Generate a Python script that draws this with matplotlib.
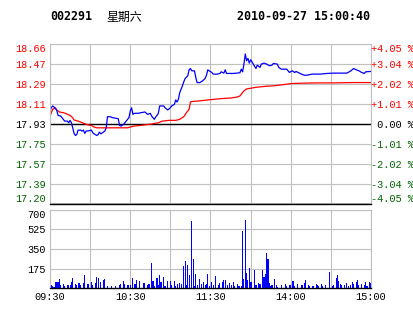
import matplotlib
matplotlib.use('Agg')
import numpy as np
import matplotlib.pyplot as plt

# header
code = '002291'
weekday = '星期六'
stamp = '2010-09-27 15:00:40'

prev_close = 17.93
price_labels = ['18.66', '18.47', '18.29', '18.11', '17.93', '17.75', '17.57', '17.39', '17.20']
pct_labels = ['+4.05 %', '+3.04 %', '+2.02 %', '+1.01 %', ' 0.00 %', '-1.01 %', '-2.02 %', '-3.04 %', '-4.05 %']
vol_ticks = [175, 350, 525, 700]
time_ticks = [0, 60, 120, 180, 240]
time_labels = ['09:30', '10:30', '11:30', '14:00', '15:00']

# last price, minute index from the open (lunch break removed)
price_min = [0, 1, 2, 3, 5, 6, 8, 10, 11, 13, 14, 15, 16, 17, 18, 19, 20, 21, 23, 24,
             25, 26, 27, 29, 31, 32, 33, 35, 36, 37, 38, 40, 41, 42, 43, 45, 47, 50, 51, 52,
             53, 55, 56, 58, 59, 60, 61, 62, 63, 66, 68, 71, 73, 75, 76, 78, 79, 80, 81, 82,
             85, 86, 88, 90, 91, 93, 94, 95, 96, 97, 99, 100, 101, 103, 104, 105, 106, 108, 109, 110,
             112, 114, 116, 117, 118, 119, 121, 122, 125, 127, 128, 130, 131, 132, 137, 142, 143, 144, 145, 146,
             147, 148, 149, 150, 152, 154, 155, 157, 158, 160, 162, 164, 166, 167, 170, 171, 173, 177, 179, 181,
             183, 184, 187, 190, 192, 196, 202, 207, 212, 222, 225, 227, 229, 231, 233, 235, 236, 240]
price = [18.046, 18.076, 18.092, 18.083, 18.055, 18.006, 18.000, 17.970, 17.954, 17.954,
         17.939, 17.961, 17.939, 17.893, 17.842, 17.823, 17.832, 17.872, 17.872, 17.863,
         17.872, 17.842, 17.863, 17.866, 17.872, 17.848, 17.838, 17.823, 17.832, 17.854,
         17.838, 17.854, 17.863, 17.893, 17.994, 17.994, 17.985, 17.979, 17.976, 17.915,
         17.909, 17.924, 17.939, 17.970, 17.985, 18.046, 18.076, 18.015, 18.025, 18.025,
         18.031, 18.037, 18.015, 18.025, 18.000, 17.970, 17.991, 18.006, 18.025, 18.092,
         18.092, 18.076, 18.055, 18.076, 18.092, 18.107, 18.147, 18.128, 18.153, 18.214,
         18.275, 18.311, 18.342, 18.366, 18.421, 18.433, 18.412, 18.412, 18.351, 18.305,
         18.305, 18.320, 18.342, 18.372, 18.421, 18.412, 18.397, 18.382, 18.382, 18.388,
         18.403, 18.391, 18.421, 18.388, 18.388, 18.394, 18.427, 18.403, 18.473, 18.565,
         18.504, 18.525, 18.482, 18.513, 18.473, 18.433, 18.464, 18.443, 18.473, 18.482,
         18.473, 18.458, 18.464, 18.479, 18.473, 18.443, 18.427, 18.427, 18.397, 18.412,
         18.397, 18.406, 18.388, 18.372, 18.372, 18.382, 18.382, 18.388, 18.391, 18.391,
         18.412, 18.433, 18.421, 18.412, 18.397, 18.388, 18.403, 18.406]

# average price
avg_min = [0, 1, 2, 4, 5, 7, 10, 12, 15, 17, 18, 21, 23, 26, 28, 31, 33, 35, 58, 61,
           63, 68, 73, 76, 78, 81, 84, 89, 94, 97, 100, 102, 104, 105, 107, 111, 118, 123, 128, 136,
           140, 142, 144, 145, 147, 150, 153, 157, 162, 167, 177, 180, 187, 200, 212, 227, 240]
avg_price = [18.000, 18.031, 18.061, 18.076, 18.055, 18.037, 18.031, 18.022, 18.006, 17.985,
             17.964, 17.954, 17.945, 17.930, 17.921, 17.915, 17.899, 17.893, 17.893, 17.903,
             17.909, 17.915, 17.924, 17.927, 17.933, 17.939, 17.954, 17.961, 17.961, 17.970,
             17.994, 18.031, 18.061, 18.128, 18.134, 18.137, 18.147, 18.153, 18.159, 18.165,
             18.174, 18.183, 18.214, 18.229, 18.247, 18.253, 18.260, 18.266, 18.272, 18.275,
             18.290, 18.296, 18.299, 18.302, 18.302, 18.305, 18.305]

# volume per minute, 241 bars
volume = [20, 25, 20, 15, 60, 60, 55, 83, 30, 0, 35, 20, 0, 30, 25, 30, 59, 95, 0, 35,
          25, 45, 45, 30, 0, 50, 118, 0, 35, 40, 0, 60, 30, 0, 45, 103, 95, 0, 59, 0,
          74, 83, 0, 24, 0, 0, 18, 0, 0, 21, 0, 0, 30, 35, 0, 65, 35, 0, 30, 30,
          30, 0, 95, 35, 35, 74, 0, 65, 0, 0, 45, 45, 0, 30, 35, 0, 224, 65, 24, 0,
          95, 30, 118, 53, 0, 103, 24, 0, 65, 0, 65, 30, 0, 65, 20, 35, 0, 45, 35, 0,
          198, 242, 30, 207, 118, 0, 597, 260, 24, 127, 30, 0, 83, 35, 0, 59, 30, 35, 124, 24,
          0, 59, 30, 0, 109, 0, 30, 45, 0, 59, 74, 74, 0, 30, 45, 0, 30, 59, 24, 0,
          35, 24, 24, 24, 508, 83, 605, 133, 74, 183, 59, 59, 0, 162, 30, 0, 45, 35, 0, 162,
          103, 124, 316, 263, 45, 24, 30, 0, 83, 30, 15, 0, 0, 30, 0, 0, 35, 24, 0, 30,
          30, 65, 65, 24, 0, 35, 0, 0, 30, 30, 45, 74, 0, 30, 24, 0, 24, 24, 0, 35,
          30, 24, 0, 35, 24, 0, 30, 0, 0, 142, 0, 24, 30, 0, 89, 118, 65, 35, 30, 0,
          30, 0, 45, 24, 0, 30, 53, 35, 0, 59, 74, 30, 0, 35, 0, 30, 53, 24, 0, 59,
          45]

RED = '#ff0000'
GREEN = '#006400'
BLUE = '#0000ff'
GRID = '#c0c0c0'
MONO = 'Liberation Mono'
W, H = 414, 314


def color_labels(labels):
    n = len(labels)
    for i, t in enumerate(labels):
        t.set_color(RED if i < n // 2 else ('black' if i == n // 2 else GREEN))
    # end labels sit inside the panel
    labels[0].set_va('top')
    labels[-1].set_va('bottom')


fig = plt.figure(figsize=(W / 100, H / 100), dpi=100)
fig.patch.set_facecolor('white')

fig.text(50 / W, 1 - 17 / H, code, family='DejaVu Sans Mono', weight='bold', fontsize=8.4, va='center')
fig.text(106 / W, 1 - 17 / H, weekday, family=['Noto Sans CJK SC', 'DejaVu Sans'], fontsize=8.6, va='center')
fig.text(237 / W, 1 - 17 / H, stamp, family='DejaVu Sans Mono', weight='bold', fontsize=8.4, va='center')

# price panel
ax = fig.add_axes([50 / W, 1 - 203.5 / H, 321 / W, 159.5 / H])
lim = prev_close * 0.0405
ax.set_ylim(prev_close - lim, prev_close + lim)
ax.set_xlim(0, 240)
yt = np.linspace(prev_close + lim, prev_close - lim, 9)
ax.set_yticks(yt)
ax.set_yticklabels(price_labels, family=MONO, fontsize=7.4)
color_labels(ax.get_yticklabels())
ax.set_xticks(range(0, 241, 30))
ax.set_xticklabels([])
ax.tick_params(length=0, pad=3)
ax.grid(True, color=GRID, lw=0.8)
ax.set_axisbelow(True)
for s in ['top', 'left', 'right']:
    ax.spines[s].set_color(GRID)
    ax.spines[s].set_linewidth(0.8)
ax.spines['bottom'].set_color('black')
ax.spines['bottom'].set_linewidth(1.0)
ax.axhline(prev_close, color='black', lw=1.0)
ax.plot(avg_min, avg_price, color=RED, lw=0.9)
ax.plot(price_min, price, color=BLUE, lw=0.9)

rx = ax.twinx()
rx.set_ylim(ax.get_ylim())
rx.set_yticks(yt)
rx.set_yticklabels(pct_labels, family=MONO, fontsize=7.4)
color_labels(rx.get_yticklabels())
rx.tick_params(length=0, pad=0)
for s in rx.spines.values():
    s.set_visible(False)

# volume panel
vx = fig.add_axes([50 / W, 1 - 288.3 / H, 321 / W, 78.8 / H])
vx.set_xlim(0, 240)
vx.set_ylim(0, 700)
vx.bar(range(len(volume)), volume, width=0.8, color=BLUE, lw=0)
vx.set_yticks(vol_ticks)
vx.set_yticklabels([str(v) for v in vol_ticks], family=MONO, fontsize=7.4)
vx.get_yticklabels()[-1].set_va('top')
vx.set_xticks(time_ticks)
vx.set_xticklabels(time_labels, family=MONO, fontsize=7.4)
vx.set_xticks([30, 90, 150, 210], minor=True)
vx.tick_params(which='both', length=0, pad=3)
vx.grid(True, which='both', color=GRID, lw=0.8)
vx.set_axisbelow(True)
for s in ['top', 'left', 'right']:
    vx.spines[s].set_color(GRID)
    vx.spines[s].set_linewidth(0.8)
vx.spines['bottom'].set_color('black')
vx.spines['bottom'].set_linewidth(1.0)

fig.savefig('out.png', dpi=100)
